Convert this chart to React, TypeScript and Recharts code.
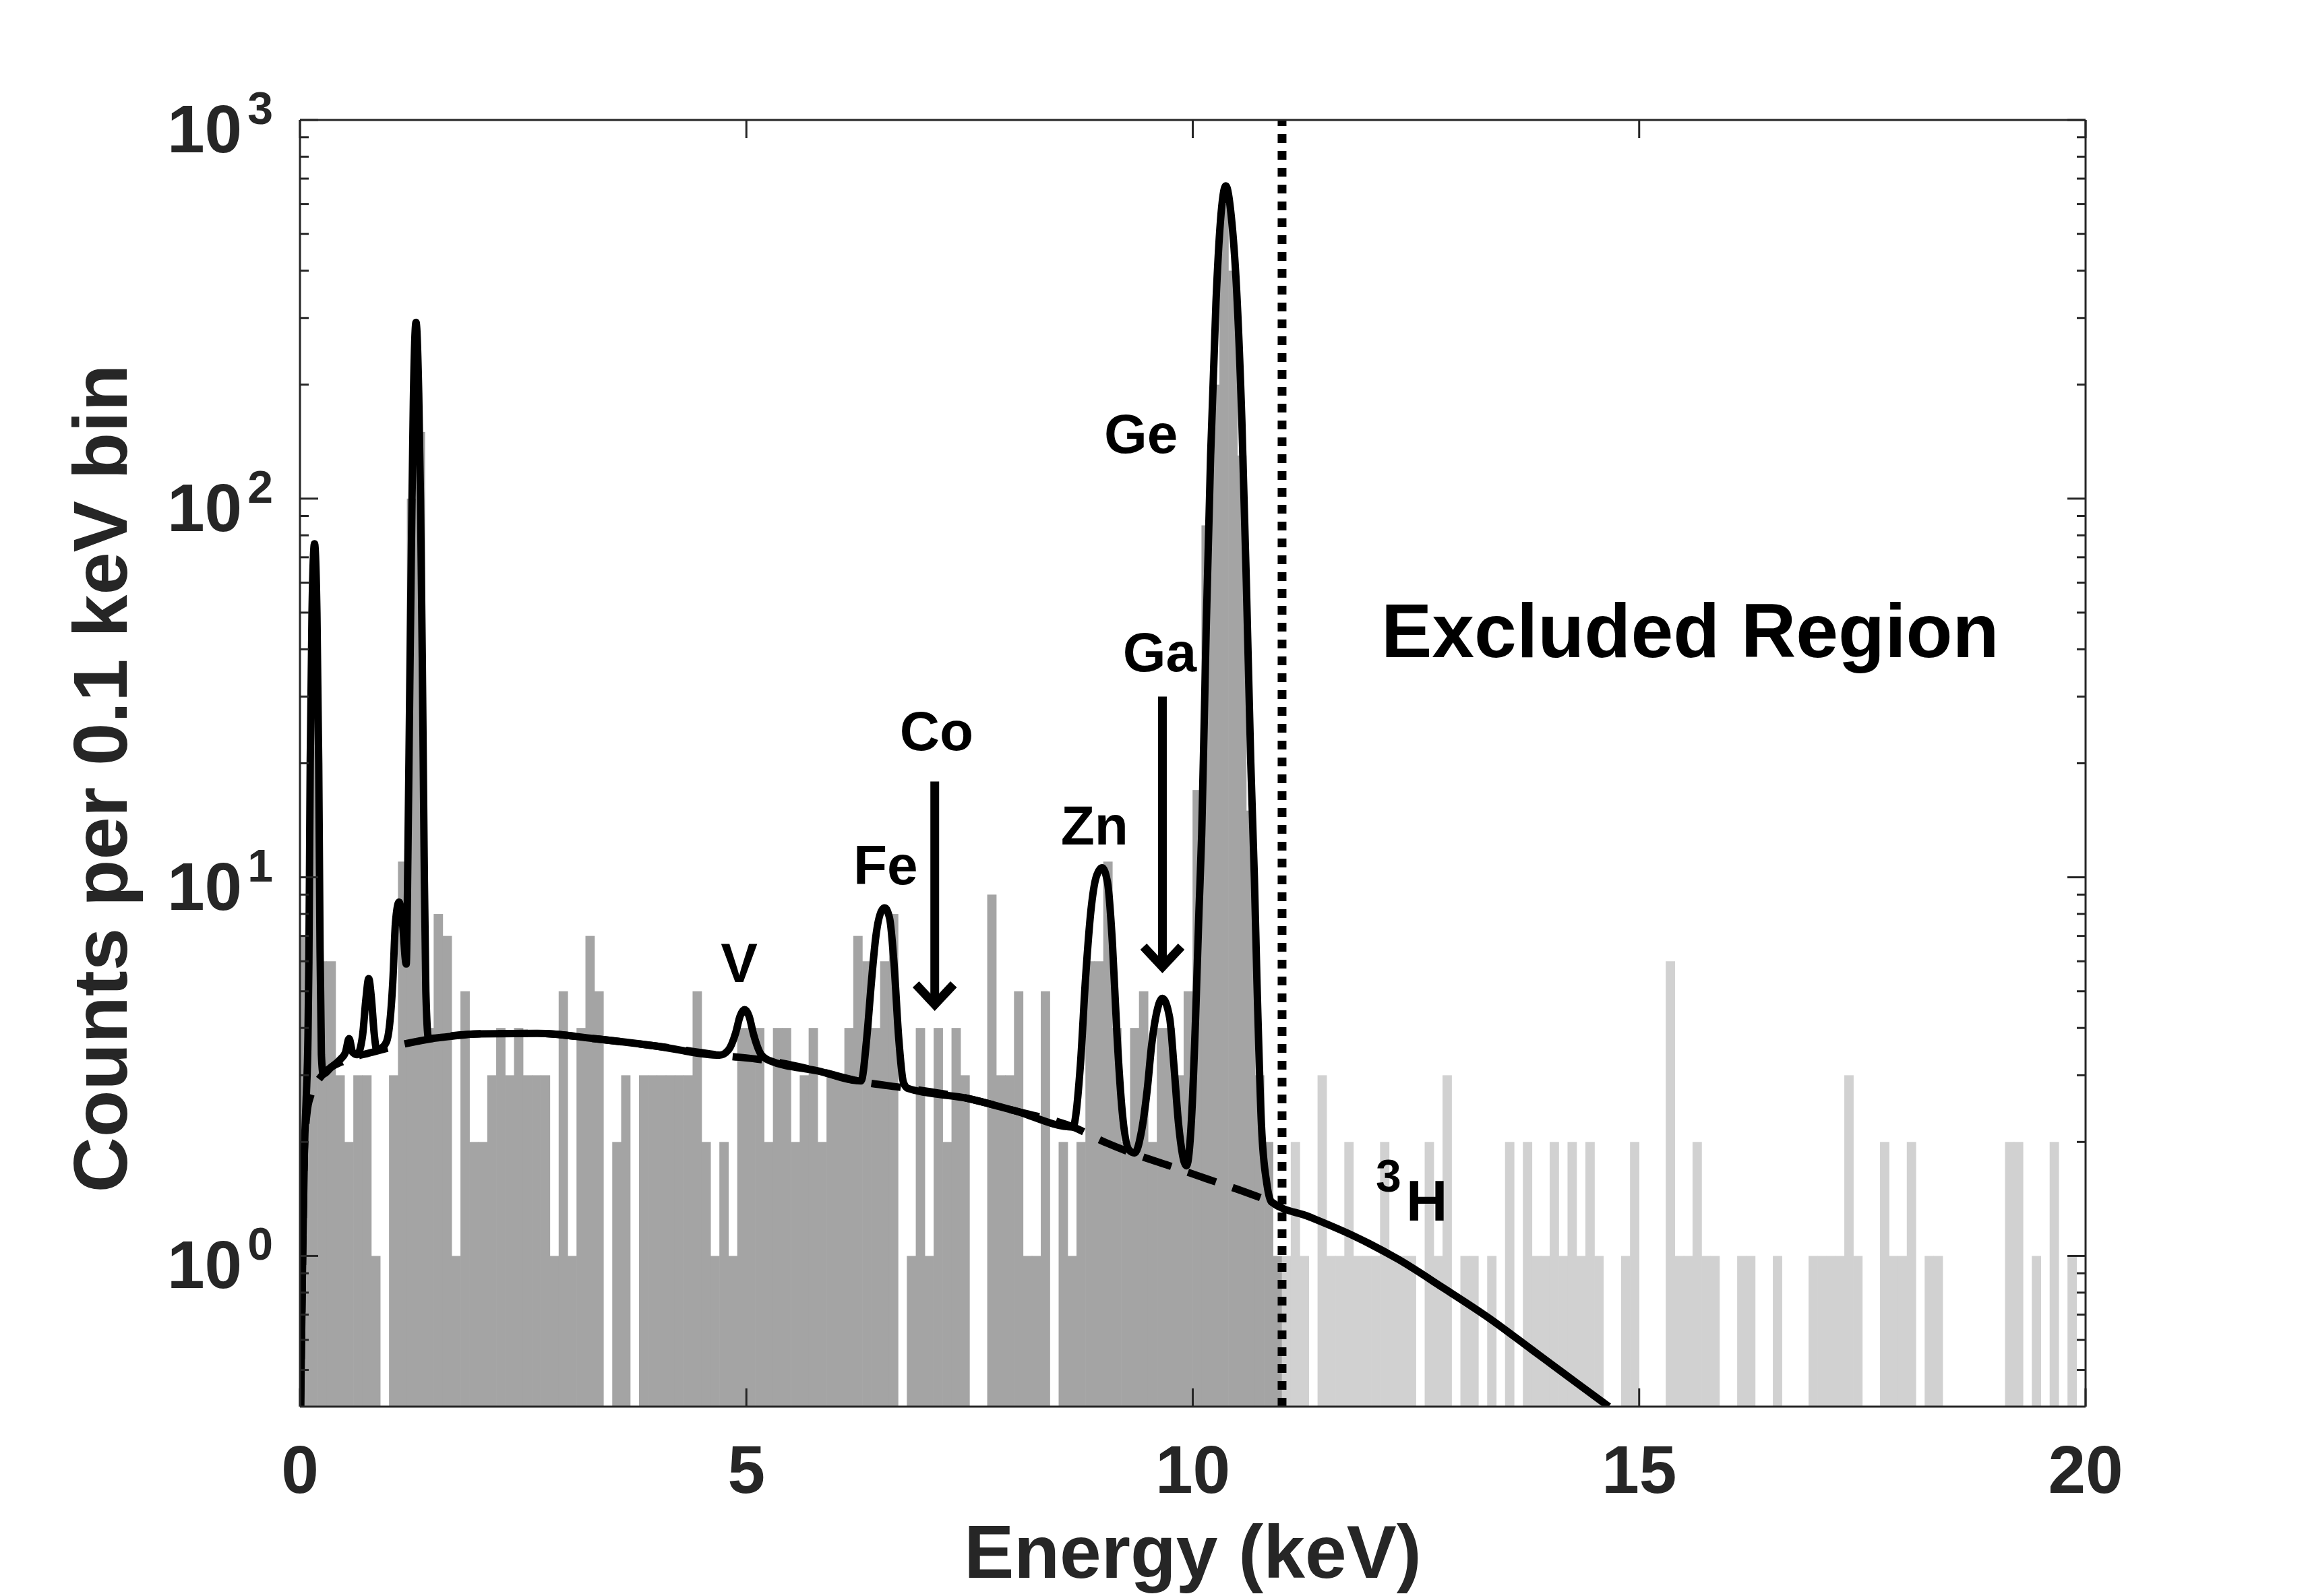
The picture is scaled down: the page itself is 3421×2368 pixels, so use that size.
import React from 'react';
import { ComposedChart, Bar, Line, XAxis, YAxis, ReferenceLine, ReferenceDot } from 'recharts';

const FONT = '"Liberation Sans", Arial, Helvetica, sans-serif';
const AXIS = '#262626';
const DARK = '#a4a4a4';
const LIGHT = '#d1d1d1';

const W = 3421;
const H = 2368;
const PLOT_L = 445;
const PLOT_T = 178;
const PLOT_R = 3094;
const PLOT_B = 2087;
const AX = 100;
const MAJOR_LEN = 27;
const MINOR_LEN = 13;

// histogram: counts per 0.1 keV bin, 0-20 keV
const BIN_WIDTH = 0.1;
const EXCLUDED_FROM = 11;
const COUNTS = [
  7, 40, 6, 6, 3, 2, 3, 3, 1, 0,
  3, 11, 100, 150, 4, 8, 7, 1, 5, 2,
  2, 3, 4, 3, 4, 3, 3, 3, 1, 5,
  1, 4, 7, 5, 0, 2, 3, 0, 3, 3,
  3, 3, 3, 3, 5, 2, 1, 2, 1, 4,
  4, 4, 2, 4, 4, 2, 3, 4, 2, 3,
  3, 4, 7, 6, 4, 6, 8, 0, 1, 4,
  1, 4, 2, 4, 3, 0, 0, 9, 3, 3,
  5, 1, 1, 5, 0, 2, 1, 2, 6, 6,
  11, 4, 2, 4, 5, 2, 4, 4, 3, 5,
  17, 85, 200, 600, 400, 130, 15, 3, 2, 1,
  1, 2, 1, 0, 3, 1, 1, 2, 1, 1,
  1, 2, 1, 1, 1, 0, 2, 1, 3, 0,
  1, 1, 0, 1, 0, 2, 0, 2, 1, 1,
  2, 1, 2, 1, 2, 1, 0, 0, 1, 2,
  0, 0, 0, 6, 1, 1, 2, 1, 1, 0,
  0, 1, 1, 0, 0, 1, 0, 0, 0, 1,
  1, 1, 1, 3, 1, 0, 0, 2, 1, 1,
  2, 0, 1, 1, 0, 0, 0, 0, 0, 0,
  0, 2, 2, 0, 1, 0, 2, 0, 1, 0,
];

// fitted model [energy keV, counts]
const MODEL_CURVE: [number, number][] = [
  [0.0, 0.3], [0.03, 1.0], [0.05, 1.9], [0.07, 2.6], [0.09, 3.8], [0.1, 6],
  [0.115, 20], [0.135, 50], [0.163, 76], [0.19, 50], [0.21, 20], [0.225, 6.5],
  [0.24, 3.4], [0.26, 3.02], [0.35, 3.15], [0.45, 3.3], [0.51, 3.45], [0.55, 3.75],
  [0.59, 3.45], [0.64, 3.4], [0.7, 3.8], [0.74, 4.8], [0.77, 5.4], [0.8, 4.8],
  [0.83, 3.9], [0.86, 3.5], [0.92, 3.55], [0.97, 3.68], [1.0, 4.0], [1.04, 5.3],
  [1.07, 7.6], [1.11, 8.6], [1.15, 7.5], [1.19, 5.9], [1.21, 12], [1.23, 32],
  [1.25, 80], [1.27, 180], [1.3, 292], [1.33, 190], [1.35, 100], [1.37, 38],
  [1.39, 12], [1.41, 5], [1.44, 3.75], [1.6, 3.78], [2.0, 3.86], [2.66, 3.87],
  [3.33, 3.74], [4.0, 3.58], [4.7, 3.39], [4.8, 3.5], [4.88, 3.88], [4.93, 4.3],
  [4.98, 4.47], [5.03, 4.3], [5.08, 3.85], [5.16, 3.42], [5.26, 3.28], [5.8, 3.08],
  [6.285, 2.9], [6.35, 3.8], [6.4, 5.27], [6.45, 6.97], [6.52, 8.2], [6.55, 8.3],
  [6.605, 7.78], [6.655, 5.87], [6.705, 3.8], [6.76, 2.87], [6.81, 2.77], [7.5, 2.6],
  [8.0, 2.42], [8.657, 2.19], [8.74, 3.16], [8.8, 5.45], [8.86, 8.2], [8.92, 10.05],
  [8.985, 10.6], [9.045, 9.7], [9.1, 6.7], [9.15, 3.88], [9.21, 2.4], [9.29, 1.9],
  [9.35, 1.87], [9.42, 2.1], [9.49, 2.75], [9.54, 3.62], [9.6, 4.44], [9.66, 4.79],
  [9.74, 4.27], [9.79, 3.16], [9.84, 2.24], [9.93, 1.73], [9.99, 2.4], [10.03, 4.15],
  [10.07, 8.2], [10.1, 13], [10.15, 45], [10.2, 130], [10.26, 330], [10.31, 540],
  [10.37, 670], [10.43, 560], [10.49, 360], [10.55, 160], [10.6, 60], [10.65, 20],
  [10.69, 10], [10.72, 5.2], [10.77, 2.2], [10.83, 1.55], [10.88, 1.39], [11.3, 1.27],
  [11.8, 1.13], [12.3, 0.98], [12.8, 0.825], [13.3, 0.69], [13.8, 0.565], [14.3, 0.462],
  [14.66, 0.4],
];

// continuum (3H) background [energy keV, counts]
const BACKGROUND_CURVE: [number, number][] = [
  [0.0, 0.3], [0.03, 1.0], [0.05, 1.9], [0.08, 2.4], [0.12, 2.65], [0.18, 2.85],
  [0.26, 3.02], [0.5, 3.28], [0.81, 3.45], [1.37, 3.71], [2.0, 3.86], [2.66, 3.87],
  [3.33, 3.74], [4.0, 3.58], [4.75, 3.38], [5.16, 3.3], [5.8, 3.08], [6.27, 2.89],
  [6.81, 2.77], [7.5, 2.6], [8.0, 2.42], [8.66, 2.19], [9.03, 1.99], [9.4, 1.84],
  [9.77, 1.72], [10.15, 1.6], [10.5, 1.5], [10.88, 1.39],
];

const X_TICKS = [0, 5, 10, 15, 20];
const Y_MAJOR = [1, 10, 100, 1000];
const Y_MINOR = [
  0.5, 0.6, 0.7, 0.8, 0.9, 2, 3, 4, 5, 6, 7, 8, 9,
  20, 30, 40, 50, 60, 70, 80, 90, 200, 300, 400, 500, 600, 700, 800, 900,
];
const Y_TICKS = [...Y_MINOR, ...Y_MAJOR].sort((a, b) => a - b);

const LINE_LABELS = [
  { text: 'V', e: 4.92, c: 5.28 },
  { text: 'Fe', e: 6.56, c: 9.58 },
  { text: 'Co', e: 7.13, c: 21.7 },
  { text: 'Zn', e: 8.9, c: 12.2 },
  { text: 'Ga', e: 9.63, c: 35.0 },
  { text: 'Ge', e: 9.42, c: 132 },
];
const ARROWS = [
  { e: 7.11, from: 17.9, to: 4.61 },
  { e: 9.66, from: 30, to: 5.8 },
];

const bins = COUNTS.map((count, i) => ({ e: BIN_WIDTH * i + BIN_WIDTH / 2, count: count > 0 ? count : null }));
const model = MODEL_CURVE.map(([e, c]) => ({ e, c }));
const background = BACKGROUND_CURVE.map(([e, c]) => ({ e, c }));

const binPx = ((PLOT_R - PLOT_L) / 20) * BIN_WIDTH;

// bars are centred on the bin centre the library gives; width is one full bin
const HistBar = (p: any) => {
  if (!p.payload || !p.payload.count || !Number.isFinite(p.y) || !Number.isFinite(p.height) || p.height <= 0) {
    return <g />;
  }
  const cx = p.x + p.width / 2;
  const fill = p.payload.e < EXCLUDED_FROM ? DARK : LIGHT;
  return <rect x={cx - binPx / 2 - 0.3} y={p.y} width={binPx + 0.6} height={p.height} fill={fill} />;
};

const BottomTick = (p: any) => (
  <g>
    <line x1={p.x} x2={p.x} y1={PLOT_B} y2={PLOT_B - MAJOR_LEN} stroke={AXIS} strokeWidth={3} />
    <line x1={p.x} x2={p.x} y1={PLOT_T} y2={PLOT_T + MAJOR_LEN} stroke={AXIS} strokeWidth={3} />
    <text x={p.x} y={2215} textAnchor="middle" fill={AXIS} fontFamily={FONT} fontWeight="bold" fontSize={100}>
      {p.payload.value}
    </text>
  </g>
);

const LeftTick = (p: any) => {
  const v = p.payload.value;
  const major = Y_MAJOR.includes(v);
  const len = major ? MAJOR_LEN : MINOR_LEN;
  return (
    <g>
      <line x1={PLOT_L} x2={PLOT_L + len} y1={p.y} y2={p.y} stroke={AXIS} strokeWidth={3} />
      <line x1={PLOT_R} x2={PLOT_R - len} y1={p.y} y2={p.y} stroke={AXIS} strokeWidth={3} />
      {major && (
        <text x={405} y={p.y + 48} textAnchor="end" fill={AXIS} fontFamily={FONT} fontWeight="bold" fontSize={100}>
          10
          <tspan fontSize={68} dx={8} dy={-42}>
            {Math.round(Math.log10(v))}
          </tspan>
        </text>
      )}
    </g>
  );
};

const xTitle = () => (
  <text x={(PLOT_L + PLOT_R) / 2} y={2341} textAnchor="middle" fill={AXIS} fontFamily={FONT} fontWeight="bold" fontSize={111}>
    Energy (keV)
  </text>
);

const yTitle = () => (
  <text
    x={188}
    y={1155}
    transform="rotate(-90 188 1155)"
    textAnchor="middle"
    fill={AXIS}
    fontFamily={FONT}
    fontWeight="bold"
    fontSize={114}
  >
    Counts per 0.1 keV bin
  </text>
);

const lineLabel = (text: string) => (p: any) => (
  <text x={p.viewBox.x} y={p.viewBox.y} textAnchor="middle" fill="#000" fontFamily={FONT} fontWeight="bold" fontSize={82}>
    {text}
  </text>
);

const excludedLabel = (p: any) => (
  <text x={p.viewBox.x} y={p.viewBox.y} textAnchor="middle" fill="#000" fontFamily={FONT} fontWeight="bold" fontSize={113}>
    Excluded Region
  </text>
);

const tritiumLabel = (p: any) => (
  <g>
    <text x={p.viewBox.x - 45} y={p.viewBox.y - 43} fill="#000" fontFamily={FONT} fontWeight="bold" fontSize={68}>
      3
    </text>
    <text x={p.viewBox.x} y={p.viewBox.y} fill="#000" fontFamily={FONT} fontWeight="bold" fontSize={85}>
      H
    </text>
  </g>
);

const ArrowShape = (p: any) => {
  const { x1, y1, x2, y2 } = p;
  return (
    <g>
      <line x1={x1} y1={y1} x2={x2} y2={y2 - 6} stroke="#000" strokeWidth={13} />
      <polyline
        points={`${x2 - 28},${y2 - 30} ${x2},${y2} ${x2 + 28},${y2 - 30}`}
        fill="none"
        stroke="#000"
        strokeWidth={13}
        strokeLinejoin="miter"
      />
    </g>
  );
};

const App: React.FC = () => {
  return (
    <div style={{ position: 'absolute', left: 0, top: 0, width: W, height: H, background: '#fff' }}>
      <ComposedChart
        width={W}
        height={H}
        data={bins}
        margin={{ top: PLOT_T - AX, right: W - PLOT_R - AX, bottom: H - PLOT_B - AX, left: PLOT_L - AX }}
      >
        <XAxis
          dataKey="e"
          type="number"
          domain={[0, 20]}
          ticks={X_TICKS}
          interval={0}
          allowDataOverflow
          height={AX}
          tickLine={false}
          axisLine={{ stroke: AXIS, strokeWidth: 3 }}
          tick={BottomTick}
          label={xTitle}
        />
        <XAxis
          xAxisId="top"
          orientation="top"
          dataKey="e"
          type="number"
          domain={[0, 20]}
          allowDataOverflow
          height={AX}
          tickLine={false}
          axisLine={{ stroke: AXIS, strokeWidth: 3 }}
          tick={false}
        />
        <YAxis
          scale="log"
          type="number"
          domain={[0.4, 1000]}
          ticks={Y_TICKS}
          interval={0}
          allowDataOverflow
          width={AX}
          tickLine={false}
          axisLine={{ stroke: AXIS, strokeWidth: 3 }}
          tick={LeftTick}
          label={yTitle}
        />
        <YAxis
          yAxisId="right"
          orientation="right"
          scale="log"
          type="number"
          domain={[0.4, 1000]}
          allowDataOverflow
          width={AX}
          tickLine={false}
          axisLine={{ stroke: AXIS, strokeWidth: 3 }}
          tick={false}
        />
        <Bar dataKey="count" barSize={binPx} shape={HistBar} isAnimationActive={false} />
        <Line
          data={background}
          dataKey="c"
          type="monotone"
          stroke="#000"
          strokeWidth={11}
          strokeDasharray="44 26"
          dot={false}
          activeDot={false}
          isAnimationActive={false}
        />
        <Line
          data={model}
          dataKey="c"
          type="monotone"
          stroke="#000"
          strokeWidth={11}
          strokeLinejoin="round"
          dot={false}
          activeDot={false}
          isAnimationActive={false}
        />
        <ReferenceLine x={EXCLUDED_FROM} stroke="#000" strokeWidth={13} strokeDasharray="13 12" />
        {ARROWS.map((a) => (
          <ReferenceLine
            key={`arrow-${a.e}`}
            segment={[{ x: a.e, y: a.from }, { x: a.e, y: a.to }]}
            shape={ArrowShape}
          />
        ))}
        {LINE_LABELS.map((l) => (
          <ReferenceDot key={l.text} x={l.e} y={l.c} r={0} fill="none" stroke="none" label={lineLabel(l.text)} />
        ))}
        <ReferenceDot x={15.57} y={38.1} r={0} fill="none" stroke="none" label={excludedLabel} />
        <ReferenceDot x={12.39} y={1.24} r={0} fill="none" stroke="none" label={tritiumLabel} />
      </ComposedChart>
    </div>
  );
};

export default App;
